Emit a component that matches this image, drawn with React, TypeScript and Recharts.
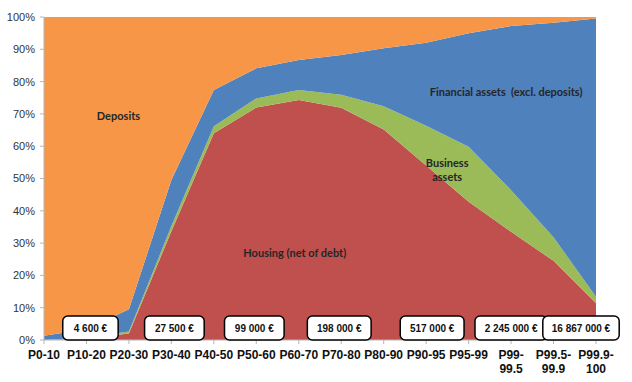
import React from 'react'
import {
  AreaChart, Area, XAxis, YAxis, ReferenceDot,
} from 'recharts'

// wealth composition by wealth percentile (shares, %)
const categories = [
  'P0-10', 'P10-20', 'P20-30', 'P30-40', 'P40-50', 'P50-60', 'P60-70',
  'P70-80', 'P80-90', 'P90-95', 'P95-99', 'P99-99.5', 'P99.5-99.9', 'P99.9-100',
]
const housing   = [0, 0.5, 2, 33.7, 64, 72, 74.3, 71.9, 65.2, 54, 42.8, 33.5, 24.5, 11.4]
const business  = [0, 0.3, 0.6, 1.6, 2.2, 2.8, 3.1, 4, 7.2, 12.3, 17, 12.9, 7.3, 2]
const financial = [1.3, 2.5, 6.9, 14.2, 11.2, 9.3, 9.3, 12.3, 17.9, 25.7, 35.2, 50.8, 66.4, 86.1]
const deposits  = [98.7, 96.7, 90.5, 50.5, 22.6, 15.9, 13.3, 11.8, 9.7, 8, 5, 2.8, 1.8, 0.5]

const yTicks = [0, 10, 20, 30, 40, 50, 60, 70, 80, 90, 100]

// average net wealth boxes, anchored on a category
const boxCategories = ['P10-20', 'P30-40', 'P50-60', 'P70-80', 'P90-95', 'P99-99.5', 'P99.9-100']
const boxLabels = ['4 600 €', '27 500 €', '99 000 €', '198 000 €', '517 000 €', '2 245 000 €', '16 867 000 €']

const data = categories.map((c, i) => ({
  cat: c,
  housing: housing[i],
  business: business[i],
  financial: financial[i],
  deposits: deposits[i],
}))

const C = {
  housing: '#c0504d',
  business: '#9bbb59',
  financial: '#4f81bd',
  deposits: '#f79646',
}

const axisGray = '#b7b7b7'
const inFont = 'Lato, "Open Sans", sans-serif'

function XTick({ x, y, payload }: any) {
  const v: string = payload.value
  const lines = v.length > 7 ? [v.slice(0, v.indexOf('-') + 1), v.slice(v.indexOf('-') + 1)] : [v]
  return (
    <text x={x} y={y} textAnchor="middle" fontFamily="Arial, 'Liberation Sans', sans-serif"
      fontSize={12} fontWeight="bold" fill="#111">
      {lines.map((l, i) => (
        <tspan key={i} x={x} dy={i === 0 ? 11 : 14}>{l}</tspan>
      ))}
    </text>
  )
}

function AreaText({ cx, cy, lines, dx = 0 }: { cx?: number; cy?: number; lines: string[]; dx?: number }) {
  if (cx == null || cy == null) return null
  return (
    <text x={cx + dx} y={cy} textAnchor="middle" fontFamily={inFont} fontSize={11}
      fontWeight="bold" fill="#262626" style={{ whiteSpace: 'pre' }}>
      {lines.map((l, i) => (
        <tspan key={i} x={cx + dx} dy={i === 0 ? 4 : 14}>{l}</tspan>
      ))}
    </text>
  )
}

function ValueBox({ cx, cy, text, dx = 0 }: { cx?: number; cy?: number; text: string; dx?: number }) {
  if (cx == null || cy == null) return null
  const w = text.length * 4.2 + 26
  const h = 24
  const x = cx + dx
  return (
    <g>
      <rect x={x - w / 2} y={cy - h / 2} width={w} height={h} rx={5} ry={5}
        fill="#fff" stroke="#000" strokeWidth={1.5} />
      <text x={x} y={cy + 4} textAnchor="middle" fontFamily="Arial, 'Liberation Sans', sans-serif"
        fontSize={10} fontWeight="bold" fill="#111">{text}</text>
    </g>
  )
}

export default function App() {
  return (
    <div style={{ position: 'absolute', left: 0, top: 0, width: 632, height: 382, background: '#fff' }}>
      <AreaChart width={632} height={382} data={data}
        margin={{ top: 17, right: 36, left: 0, bottom: 0 }}>
        <XAxis dataKey="cat" interval={0} height={42} tick={<XTick />}
          stroke={axisGray} tickSize={4} tickMargin={4} />
        <YAxis type="number" domain={[0, 100]} ticks={yTicks} width={44}
          tickFormatter={v => `${v}%`} stroke={axisGray} tickSize={4} tickMargin={5}
          tick={{ fontSize: 11, fill: '#333', fontFamily: 'Arial, "Liberation Sans", sans-serif' }} />
        <Area type="linear" dataKey="housing" stackId="w" stroke="none" fill={C.housing} fillOpacity={1} isAnimationActive={false} />
        <Area type="linear" dataKey="business" stackId="w" stroke="none" fill={C.business} fillOpacity={1} isAnimationActive={false} />
        <Area type="linear" dataKey="financial" stackId="w" stroke="none" fill={C.financial} fillOpacity={1} isAnimationActive={false} />
        <Area type="linear" dataKey="deposits" stackId="w" stroke="none" fill={C.deposits} fillOpacity={1} isAnimationActive={false} />

        <ReferenceDot x="P10-20" y={69.3} shape={(p: any) => <AreaText {...p} dx={32} lines={['Deposits']} />} />
        <ReferenceDot x="P99-99.5" y={76.8} shape={(p: any) => <AreaText {...p} dx={-5} lines={['Financial assets  (excl. deposits)']} />} />
        <ReferenceDot x="P90-95" y={54.8} shape={(p: any) => <AreaText {...p} dx={21} lines={['Business', 'assets']} />} />
        <ReferenceDot x="P60-70" y={27} shape={(p: any) => <AreaText {...p} dx={-4} lines={['Housing (net of debt)']} />} />

        {boxCategories.map((c, i) => (
          <ReferenceDot key={c} x={c} y={3.7}
            shape={(p: any) => <ValueBox {...p} text={boxLabels[i]}
              dx={i === 0 ? 4 : i === 1 ? 3 : i === 2 ? -2 : i === 3 ? -2 : i === 4 ? 6 : i === 6 ? -15 : 0} />} />
        ))}
      </AreaChart>
    </div>
  )
}
